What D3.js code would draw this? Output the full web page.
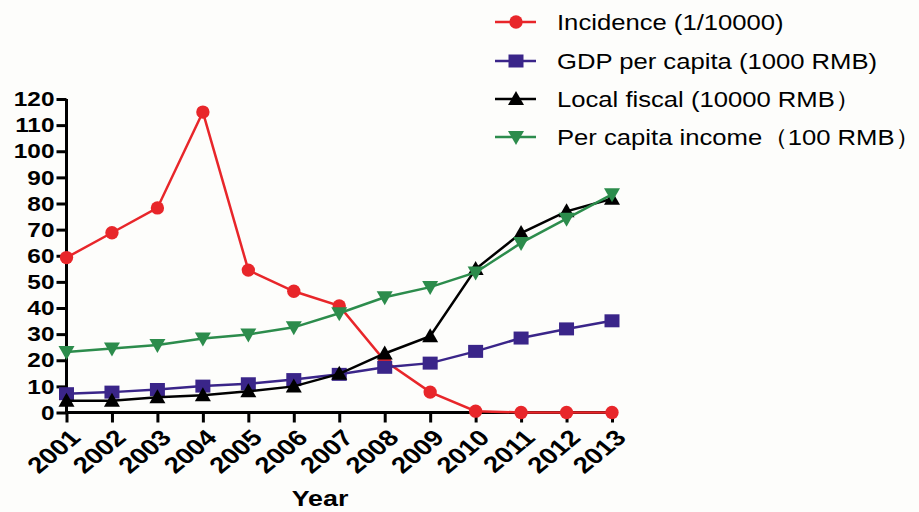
<!DOCTYPE html>
<html>
<head>
<meta charset="utf-8">
<script src="https://cdn.jsdelivr.net/npm/d3@7"></script>
<style>
  html, body { margin: 0; padding: 0; background: #fdfdfb; }
  svg { display: block; }
  text { font-family: "Liberation Sans", Arial, sans-serif; fill: #000; }
</style>
</head>
<body>
<svg id="chart" width="919" height="512"></svg>
<script>
// Years on the x axis
const years = ["2001","2002","2003","2004","2005","2006","2007","2008","2009","2010","2011","2012","2013"];

// Series values
const incidence = [59.3, 68.8, 78.3, 115, 54.5, 46.4, 40.8, 19.8, 7.8, 0.5, 0, 0, 0];
const gdpPerCapita = [7.2, 7.8, 8.8, 10.1, 11, 12.6, 14.6, 17.3, 18.9, 23.4, 28.5, 32, 35.1];
const localFiscal = [4.5, 4.5, 5.8, 6.6, 8.1, 10, 14.8, 22.6, 29.2, 54.9, 68.7, 77, 81.8];
const perCapitaIncome = [23.2, 24.5, 25.8, 28.3, 29.9, 32.6, 38, 44.1, 48, 53.6, 64.9, 74.2, 83.5];

// Y tick values
const yTicks = [0, 10, 20, 30, 40, 50, 60, 70, 80, 90, 100, 110, 120];

const seriesNames = ["Incidence (1/10000)", "GDP per capita (1000 RMB)", "Local fiscal (10000 RMB\uFF09", "Per capita income\uFF08100 RMB\uFF09"];
const seriesColors = ["#e8262a", "#3a2589", "#000000", "#2c8c4c"];
const seriesShapes = ["circle", "square", "triangle", "triangleDown"];
const seriesValues = [incidence, gdpPerCapita, localFiscal, perCapitaIncome];

const series = seriesNames.map((name, i) => ({
  name, color: seriesColors[i], shape: seriesShapes[i], values: seriesValues[i]
}));

// The figure's type is horizontally widened
const SX = 1.22;

const svg = d3.select("#chart");
const plotLeft = 66.5, plotRight = 612, plotTop = 99, plotBottom = 412.5;

const x = d3.scalePoint().domain(years).range([plotLeft, plotRight]);
const y = d3.scaleLinear().domain([0, 120]).range([plotBottom, plotTop]);

function markerPath(shape) {
  switch (shape) {
    case "circle": return d3.symbol(d3.symbolCircle, 140)();
    case "square": return "M-7.5,-6.5H7.5V6.5H-7.5Z";
    case "triangle": return "M0,-8L8,6H-8Z";
    case "triangleDown": return "M0,8L8,-6H-8Z";
  }
}

// Axes
const yAxis = d3.axisLeft(y).tickValues(yTicks).tickSize(10).tickPadding(2);
const xAxis = d3.axisBottom(x).tickSize(10).tickPadding(2);

const gy = svg.append("g").attr("transform", `translate(${plotLeft},0)`).call(yAxis);
const gx = svg.append("g").attr("transform", `translate(0,${plotBottom})`).call(xAxis);

[gx, gy].forEach(g => {
  g.select(".domain").attr("stroke", "#000").attr("stroke-width", 3);
  g.selectAll(".tick line").attr("stroke", "#000").attr("stroke-width", 3);
});
gx.select(".domain").attr("d", `M${plotLeft},0H${plotRight}`);
gy.select(".domain").attr("d", `M0,${plotBottom}V${plotTop}`);

gy.selectAll(".tick text")
  .attr("x", null).attr("dy", null)
  .attr("font-size", 20).attr("font-weight", "bold")
  .attr("font-family", "Liberation Sans, Arial, sans-serif")
  .attr("text-anchor", "end")
  .attr("dominant-baseline", "central")
  .attr("transform", `translate(-12,0) scale(${SX},1)`);

gx.selectAll(".tick text")
  .attr("y", null).attr("dy", null)
  .attr("font-size", 22.5).attr("font-weight", "bold")
  .attr("font-family", "Liberation Sans, Arial, sans-serif")
  .attr("text-anchor", "end")
  .attr("dominant-baseline", "central")
  .attr("transform", `translate(8,21) scale(${SX},1) rotate(-45)`);

svg.append("text")
  .attr("font-size", 22).attr("font-weight", "bold")
  .attr("text-anchor", "middle")
  .attr("transform", `translate(320,506) scale(${SX},1)`)
  .text("Year");

// Lines and markers
const line = d3.line().x((d, i) => x(years[i])).y(d => y(d));

series.forEach(s => {
  const g = svg.append("g");
  g.append("path")
    .attr("d", line(s.values))
    .attr("fill", "none")
    .attr("stroke", s.color)
    .attr("stroke-width", 2.5);
  g.selectAll("path.pt")
    .data(s.values)
    .join("path")
    .attr("class", "pt")
    .attr("transform", (d, i) => `translate(${x(years[i])},${y(d)})`)
    .attr("d", markerPath(s.shape))
    .attr("fill", s.color);
});

// Legend
const legendRows = [22, 61, 99, 137];
const leg = svg.append("g");
series.forEach((s, i) => {
  const row = leg.append("g").attr("transform", `translate(0,${legendRows[i]})`);
  row.append("line")
    .attr("x1", 495).attr("x2", 536)
    .attr("stroke", s.color).attr("stroke-width", 2.5);
  row.append("path")
    .attr("transform", "translate(516,0)")
    .attr("d", markerPath(s.shape))
    .attr("fill", s.color);
  row.append("text")
    .attr("font-size", 22.5)
    .attr("dominant-baseline", "central")
    .attr("transform", `translate(557,0) scale(1.14,1)`)
    .text(s.name);
});
</script>
</body>
</html>
